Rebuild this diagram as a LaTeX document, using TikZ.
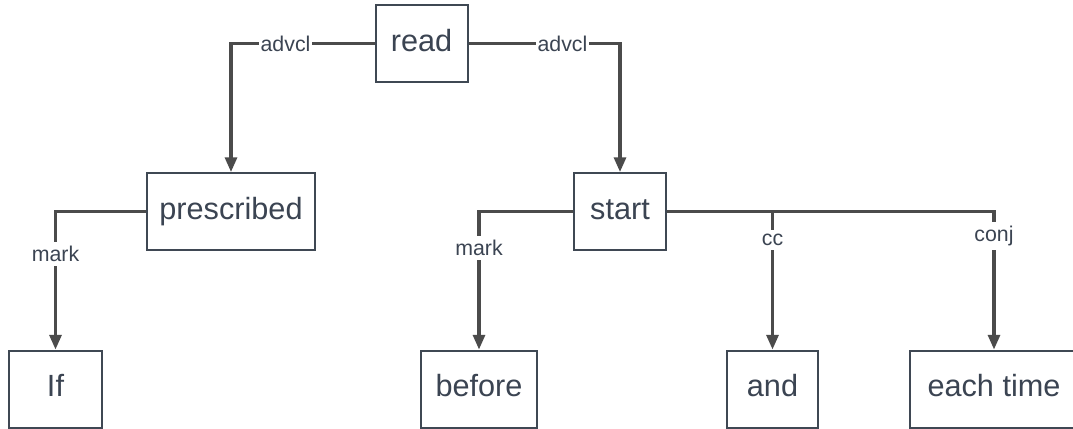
\documentclass[tikz,border=0pt]{standalone}
\usepackage{fontspec}
\setmainfont{Liberation Sans}
\usetikzlibrary{arrows.meta}
\definecolor{boxline}{HTML}{3F4853}
\definecolor{wordink}{HTML}{3B4452}
\definecolor{connink}{HTML}{4B4B4B}
\tikzset{
  word/.style={draw=boxline, line width=1.5pt, fill=white, text=wordink,
    minimum height=57.75pt, inner sep=0pt, text height=17.5pt, text depth=6pt,
    font=\fontsize{23}{27}\selectfont},
  conn/.style={draw=connink, line width=2.3pt,
    -{Triangle[length=11pt,width=9pt]}},
  rel/.style={fill=white, text=wordink, inner xsep=1pt, inner ysep=3pt,
    font=\fontsize{16}{18}\selectfont}
}
\begin{document}
\begin{tikzpicture}[x=0.75pt,y=-0.75pt]
\useasboundingbox (0,0) rectangle (1073,428);

% words of the sentence
\node[word, minimum width=69pt]    (read)       at (421.5,43.5)  {read};
\node[word, minimum width=126pt]   (prescribed) at (231,211.5)   {prescribed};
\node[word, minimum width=69pt]    (start)      at (620,211.5)   {start};
\node[word, minimum width=69.75pt] (if)         at (55.5,389)    {If};
\node[word, minimum width=87pt]    (before)     at (479,389)     {before};
\node[word, minimum width=68.25pt] (and)        at (772.5,389)   {and};
\node[word, minimum width=126pt]   (each)       at (994,389)     {each time};

% dependency relations
\draw[conn] (read.west) -| node[rel, pos=0.31] (l1) {advcl} (prescribed.north);
\draw[conn] (read.east) -| node[rel, pos=0.31] (l2) {advcl} (start.north);
\draw[conn] (prescribed.west) -| node[rel, pos=0.655] (l3) {mark} (if.north);
\draw[conn] (start.west) -| node[rel, pos=0.633] (l4) {mark} (before.north);
\draw[conn] (start.east) -| node[rel, pos=0.604] (l5) {cc} (and.north);
\draw[conn] (start.east) -| node[rel, pos=0.59] (l6) {conj} (each.north);
\end{tikzpicture}
\end{document}
